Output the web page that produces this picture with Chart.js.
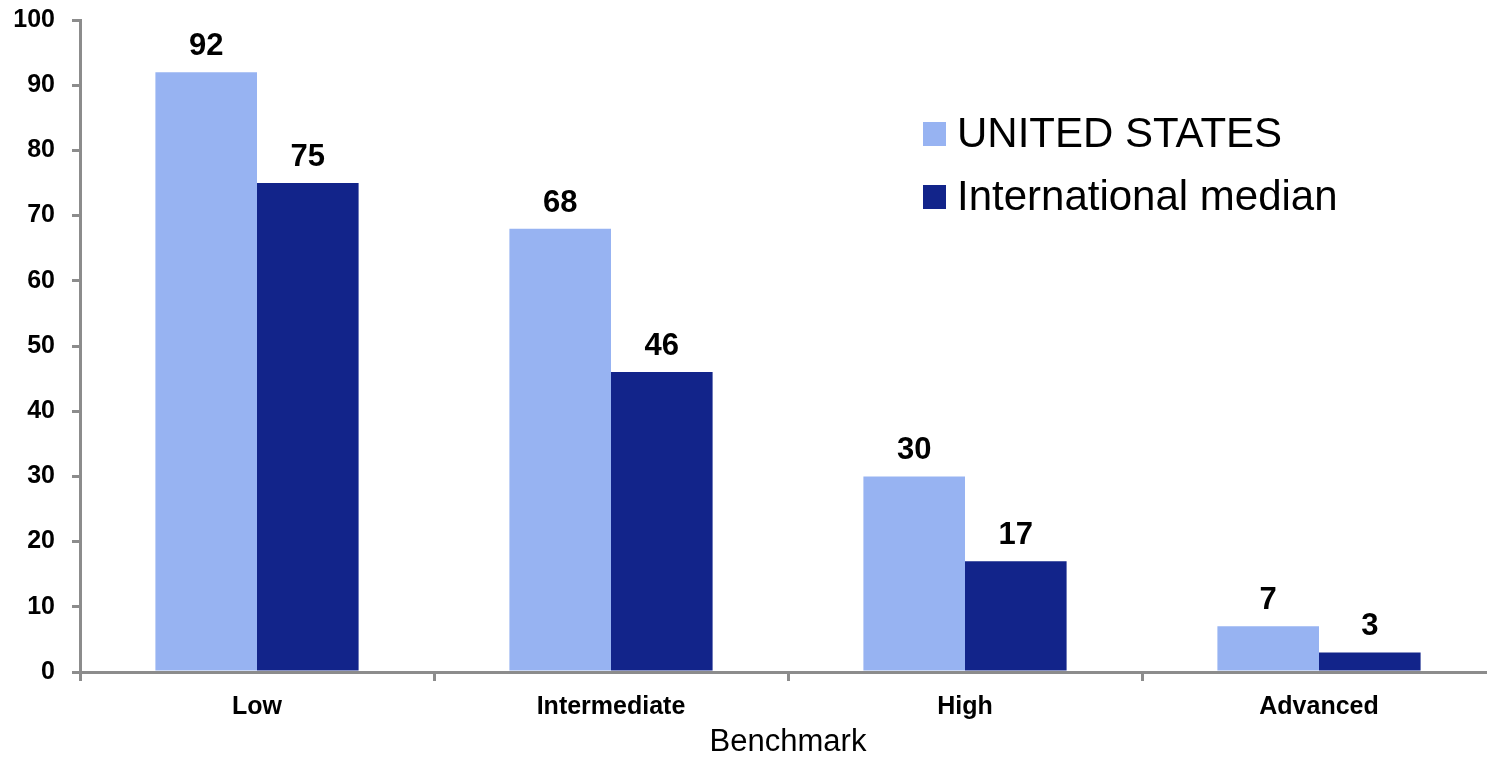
<!DOCTYPE html>
<html>
<head>
<meta charset="utf-8">
<script src="https://cdn.jsdelivr.net/npm/chart.js@4/dist/chart.umd.min.js"></script>
<style>
  html, body { margin: 0; padding: 0; background: #fff; overflow: hidden; }
  #wrap { width: 1500px; height: 761px; }
</style>
</head>
<body>
<div id="wrap"><canvas id="chart" width="1500" height="761"></canvas></div>
<script>
// chart data
const categories = ['Low', 'Intermediate', 'High', 'Advanced'];
const usValues = [92, 68, 30, 7];
const intlValues = [75, 46, 17, 3];
const seriesNames = ['UNITED STATES', 'International median'];
const yTicks = [0, 10, 20, 30, 40, 50, 60, 70, 80, 90, 100];

const AXIS = '#8c8c8c';
const FONT = '"Liberation Sans", Arial, sans-serif';

// value labels above each bar
const barLabels = {
    id: 'barLabels',
    afterDatasetsDraw(chart) {
        const ctx = chart.ctx;
        ctx.save();
        ctx.font = 'bold 31px ' + FONT;
        ctx.fillStyle = '#000';
        ctx.textAlign = 'center';
        ctx.textBaseline = 'alphabetic';
        chart.data.datasets.forEach((ds, i) => {
            chart.getDatasetMeta(i).data.forEach((bar, j) => {
                ctx.fillText(String(ds.data[j]), bar.x, bar.y - 17);
            });
        });
        ctx.restore();
    }
};

// legend drawn inside the plot, upper right
const insideLegend = {
    id: 'insideLegend',
    afterDraw(chart) {
        const ctx = chart.ctx;
        ctx.save();
        ctx.font = '42px ' + FONT;
        ctx.textBaseline = 'alphabetic';
        ctx.textAlign = 'left';
        chart.data.datasets.forEach((ds, i) => {
            const top = 122 + i * 63;
            ctx.fillStyle = ds.backgroundColor;
            ctx.fillRect(923, top, 23, 24);
            ctx.fillStyle = '#000';
            ctx.fillText(ds.label, 957, top + 25);
        });
        ctx.restore();
    }
};

new Chart(document.getElementById('chart'), {
    type: 'bar',
    data: {
        labels: categories,
        datasets: [
            { label: seriesNames[0], data: usValues, backgroundColor: '#97b3f2',
              categoryPercentage: 0.574, barPercentage: 1 },
            { label: seriesNames[1], data: intlValues, backgroundColor: '#12248a',
              categoryPercentage: 0.574, barPercentage: 1 }
        ]
    },
    options: {
        responsive: false,
        animation: false,
        layout: { padding: { top: 20, right: 4, bottom: 0, left: 0 } },
        plugins: { legend: { display: false }, tooltip: { enabled: false } },
        scales: {
            x: {
                offset: true,
                grid: { offset: true, drawOnChartArea: false, drawTicks: true, tickLength: 9, color: AXIS, lineWidth: 3 },
                border: { color: AXIS, width: 3 },
                ticks: { color: '#000', font: { family: FONT, size: 25, weight: 'bold' }, padding: 11, maxRotation: 0 },
                title: { display: true, text: 'Benchmark', color: '#000', font: { family: FONT, size: 31 }, padding: { top: 0, bottom: 0 } },
                afterFit(scale) { scale.height = 89; scale.paddingLeft = 0; scale.paddingRight = 0; }
            },
            y: {
                min: 0,
                max: 100,
                afterBuildTicks(scale) { scale.ticks = yTicks.map(v => ({ value: v })); },
                grid: { drawOnChartArea: false, drawTicks: true, tickLength: 8, color: AXIS, lineWidth: 3 },
                border: { color: AXIS, width: 3 },
                ticks: { color: '#000', font: { family: FONT, size: 25, weight: 'bold' }, padding: 17 },
                afterFit(scale) { scale.width = 80; scale.paddingTop = 0; scale.paddingBottom = 0; }
            }
        }
    },
    plugins: [barLabels, insideLegend]
});
</script>
</body>
</html>
